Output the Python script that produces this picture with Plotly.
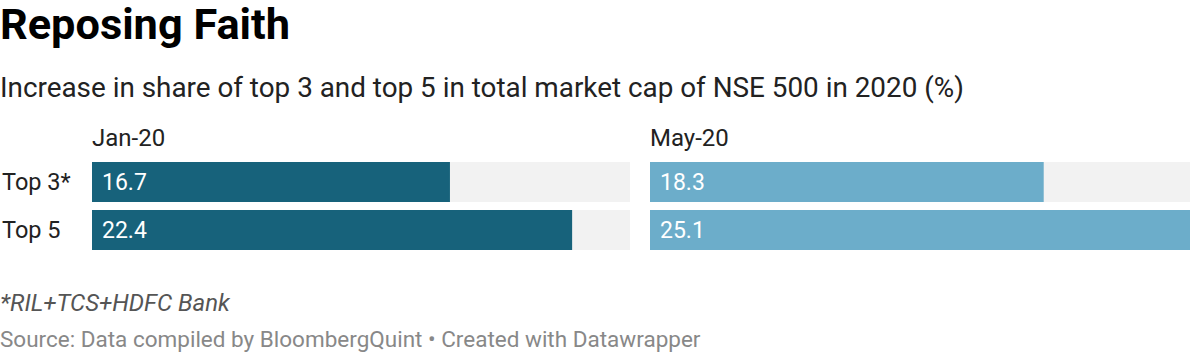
import plotly.graph_objects as go

categories = ["Top 3*", "Top 5"]
periods = ["Jan-20", "May-20"]
jan_values = [16.7, 22.4]
may_values = [18.3, 25.1]
colors = ["#17627b", "#6cadca"]

W, H = 1200, 354
def py(p):
    return 1 - p / H

max_val = max(jan_values + may_values)

fig = go.Figure()
series = [jan_values, may_values]
for i, vals in enumerate(series):
    xa = "x" if i == 0 else "x2"
    ya = "y" if i == 0 else "y2"
    fig.add_trace(go.Bar(y=categories, x=[max_val] * len(vals), orientation="h",
                         marker=dict(color="#f2f2f2", line=dict(width=0)),
                         xaxis=xa, yaxis=ya, hoverinfo="skip", showlegend=False))
    fig.add_trace(go.Bar(y=categories, x=vals, orientation="h",
                         marker=dict(color=colors[i], line=dict(width=0)),
                         xaxis=xa, yaxis=ya, showlegend=False))
    for c, v in zip(categories, vals):
        fig.add_annotation(x=0, y=c, xref=xa, yref=ya, text=f"{v}", showarrow=False,
                           xanchor="left", xshift=8, yshift=0,
                           font=dict(family="Roboto", size=23, color="white"))

ydom = [py(254), py(158)]
fig.update_layout(
    width=W, height=H, margin=dict(l=0, r=0, t=0, b=0),
    paper_bgcolor="white", plot_bgcolor="white",
    barmode="overlay", bargap=8 / 48,
    xaxis=dict(domain=[92 / W, 630 / W], range=[0, max_val], visible=False, fixedrange=True),
    xaxis2=dict(domain=[650 / W, 1190 / W], range=[0, max_val], visible=False, fixedrange=True),
    yaxis=dict(domain=ydom, autorange="reversed", visible=False, anchor="x"),
    yaxis2=dict(domain=ydom, autorange="reversed", visible=False, anchor="x2"),
)

for c in categories:
    fig.add_annotation(x=0, y=c, xref="paper", yref="y", text=c, showarrow=False,
                       xanchor="left", font=dict(family="Roboto", size=23.5, color="#222"))

for xp, label in zip([92 / W, 650 / W], periods):
    fig.add_annotation(x=xp, y=py(138), xref="paper", yref="paper", text=label,
                       showarrow=False, xanchor="left", yanchor="middle", xshift=-2,
                       font=dict(family="Roboto", size=24, color="#222"))

fig.add_annotation(x=0, y=py(25), xref="paper", yref="paper", text="<b>Reposing Faith</b>",
                   showarrow=False, xanchor="left", yanchor="middle", xshift=-2,
                   font=dict(family="Roboto", size=43.3, color="#000"))
fig.add_annotation(x=0, y=py(87), xref="paper", yref="paper",
                   text="Increase in share of top 3 and top 5 in total market cap of NSE 500 in 2020 (%)",
                   showarrow=False, xanchor="left", yanchor="middle", xshift=-2,
                   font=dict(family="Roboto", size=27.85, color="#222"))
fig.add_annotation(x=0, y=py(303), xref="paper", yref="paper", text="<i>*RIL+TCS+HDFC Bank</i>",
                   showarrow=False, xanchor="left", yanchor="middle", xshift=-2,
                   font=dict(family="Roboto", size=24, color="#555"))
fig.add_annotation(x=0, y=py(339), xref="paper", yref="paper",
                   text="Source: Data compiled by BloombergQuint • Created with Datawrapper",
                   showarrow=False, xanchor="left", yanchor="middle", xshift=-2,
                   font=dict(family="Roboto", size=22.5, color="#888"))

fig.write_html("out.html")
